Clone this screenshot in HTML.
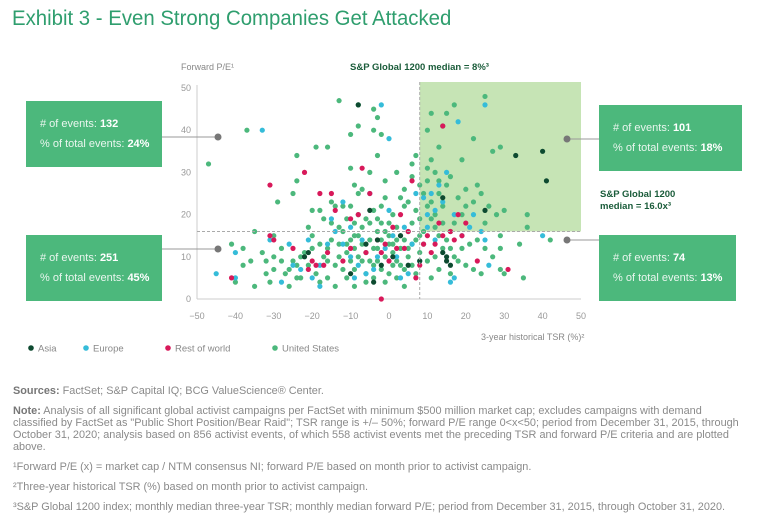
<!DOCTYPE html>
<html><head><meta charset="utf-8"><style>
body{margin:0;width:768px;height:525px;background:#fff;font-family:"Liberation Sans",sans-serif;overflow:hidden;position:relative}
.t{position:absolute;white-space:nowrap}
.box{position:absolute;background:#4cb87c;color:#eaf6ef;font-size:11px;line-height:20px;padding-left:14px;box-sizing:border-box}
.box b{color:#fff}
.fn{position:absolute;left:13px;font-size:11px;color:#8a8a8a;line-height:12px;white-space:nowrap;transform:scaleX(0.99);transform-origin:0 0}
.fn b{color:#777}
</style></head><body>
<div class="t" style="left:12px;top:7px;font-size:21px;color:#2f9e6e;transform:scaleX(0.97);transform-origin:0 0">Exhibit 3 - Even Strong Companies Get Attacked</div>
<svg id="chart" width="768" height="380" style="position:absolute;left:0;top:0"></svg>
<div class="box" style="left:26px;top:101px;width:136px;height:66px;padding-top:13px"># of events: <b>132</b><br>% of total events: <b>24%</b></div>
<div class="box" style="left:26px;top:235px;width:136px;height:66px;padding-top:13px"># of events: <b>251</b><br>% of total events: <b>45%</b></div>
<div class="box" style="left:599px;top:105px;width:143px;height:66px;padding-top:13px"># of events: <b>101</b><br>% of total events: <b>18%</b></div>
<div class="box" style="left:599px;top:235px;width:137px;height:66px;padding-top:13px"># of events: <b>74</b><br>% of total events: <b>13%</b></div>
<div class="t" style="left:181px;top:62px;font-size:9px;color:#888">Forward P/E¹</div>
<div class="t" style="left:350px;top:62px;font-size:9.5px;color:#1a5c3a;font-weight:bold">S&amp;P Global 1200 median = 8%³</div>
<div class="t" style="left:600px;top:189px;font-size:9.5px;color:#1a5c3a;font-weight:bold;line-height:12px">S&amp;P Global 1200<br>median = 16.0x³</div>
<div class="t" style="left:481px;top:332px;font-size:9px;color:#888">3-year historical TSR (%)²</div>
<div class="fn" style="top:385px"><b>Sources:</b> FactSet; S&amp;P Capital IQ; BCG ValueScience® Center.</div>
<div class="fn" style="top:405px"><b>Note:</b> Analysis of all significant global activist campaigns per FactSet with minimum $500 million market cap; excludes campaigns with demand<br>classified by FactSet as "Public Short Position/Bear Raid"; TSR range is +/– 50%; forward P/E range 0&lt;x&lt;50; period from December 31, 2015, through<br>October 31, 2020; analysis based on 856 activist events, of which 558 activist events met the preceding TSR and forward P/E criteria and are plotted<br>above.</div>
<div class="fn" style="top:461px">¹Forward P/E (x) = market cap / NTM consensus NI; forward P/E based on month prior to activist campaign.</div>
<div class="fn" style="top:481px">²Three-year historical TSR (%) based on month prior to activist campaign.</div>
<div class="fn" style="top:501px">³S&amp;P Global 1200 index; monthly median three-year TSR; monthly median forward P/E; period from December 31, 2015, through October 31, 2020.</div>
<script>
const xTicks=[-50,-40,-30,-20,-10,0,10,20,30,40,50];
const yTicks=[0,10,20,30,40,50];
const medianTSR=[8];
const medianPE=[16];
const usPts=[[-47,32],[-37,40],[-24,34],[-19,36],[-16,36],[-13,47],[-8,46],[-4,45],[-3,43],[-4,40],[-8,41],[-10,39],[-2,39],[-10,31],[-5,30],[-3,34],[-24,28],[-25,25],[-29,23],[-20,21],[-15,23],[-14,22],[-12,22],[-9,27],[-7,26],[-8,25],[-21,17],[-35,16],[-41,13],[-38,12],[-38,8],[-40,4],[-35,3],[-31,4],[-32,6],[-30,7],[-32,9],[-30,10],[-28,9],[-27,6],[-26,3],[-24,5],[-23,5],[-24,8],[-25,9],[-23,10],[-22,11],[-20,12],[-20,15],[-18,13],[-17,10],[-16,12],[-15,14],[-13,13],[-16,9],[-14,8],[-12,7],[-13,10],[-11,11],[-10,9],[-9,12],[-10,14],[-8,15],[-7,17],[-6,19],[-5,18],[-7,13],[-6,11],[-8,10],[-5,9],[-4,8],[-3,12],[-2,14],[-1,16],[0,18],[1,20],[2,17],[3,15],[-3,19],[-4,21],[-2,22],[0,13],[1,11],[2,9],[3,12],[4,14],[5,16],[6,18],[7,21],[5,23],[4,26],[6,29],[8,27],[9,25],[10,22],[11,19],[12,17],[13,15],[14,12],[12,10],[10,9],[8,11],[9,13],[7,14],[6,8],[4,7],[2,5],[0,6],[-2,7],[-4,5],[-6,6],[-9,7],[-11,5],[-16,5],[-18,4],[-19,6],[-12,16],[-15,18],[-17,19],[-18,21],[-11,19],[-9,18],[-13,17],[15,14],[16,12],[17,10],[18,9],[20,8],[22,7],[24,6],[19,12],[21,13],[23,14],[25,12],[27,10],[29,7],[30,6],[35,5],[29,12],[34,13],[42,14],[17,18],[19,20],[20,22],[22,23],[24,25],[26,22],[28,20],[30,21],[36,20],[36,17],[29,15],[25,18],[16,16],[14,18],[12,20],[11,23],[13,25],[15,27],[12,30],[11,33],[13,36],[10,40],[11,44],[14,41],[15,44],[17,46],[25,48],[22,38],[27,35],[29,36],[19,33],[16,29],[18,24],[20,26],[23,27],[14,22],[10,28],[10,31],[13,28],[-1,28],[2,30],[6,32],[7,34],[-1,24],[3,24],[4,22],[8,19],[9,16],[6,13],[5,10],[3,8],[1,8],[-1,10],[-3,9],[-6,4],[-9,3],[-14,3],[-8,20],[-10,22],[-21,8],[-26,7],[-28,12],[-30,15],[-33,11],[-36,9],[7,6],[11,5],[13,7],[16,6],[-1,4],[4,3],[-5,14],[-3,16],[0,15],[2,14],[-7,9],[-2,18],[1,13],[5,12],[8,15],[-9,15],[-11,13],[-4,12]];
const euPts=[[-33,40],[-45,6],[-40,11],[-40,5],[-31,14],[-28,4],[-25,8],[-23,7],[-20,5],[-18,3],[-18,8],[-16,13],[-14,16],[-12,13],[-10,10],[-8,8],[-6,6],[-4,7],[-3,10],[-1,12],[1,15],[2,10],[3,5],[5,6],[-15,19],[-12,23],[-10,17],[-2,46],[0,38],[-5,25],[7,25],[9,24],[11,25],[13,27],[15,30],[17,20],[19,15],[21,17],[25,14],[26,8],[24,16],[22,20],[14,23],[12,21],[10,20],[18,42],[25,46],[40,15],[16,4],[17,5],[6,13],[4,17],[0,21],[-7,14],[-9,5],[8,9],[-26,13],[-21,14],[10,17],[12,14]];
const rowPts=[[-41,5],[-31,27],[-31,15],[-30,14],[-25,12],[-20,9],[-21,7],[-19,8],[-17,8],[-16,11],[-22,30],[-18,25],[-15,25],[-14,21],[-10,19],[-8,20],[-7,31],[-5,25],[-3,14],[-2,11],[-1,13],[0,9],[1,17],[2,12],[3,20],[5,16],[6,28],[8,8],[9,13],[11,11],[12,13],[13,18],[14,15],[16,16],[17,14],[19,15],[20,18],[23,9],[31,7],[14,41],[-2,0],[-10,12],[-12,9],[7,5],[4,12],[-6,11],[18,20],[10,15]];
const asiaPts=[[-8,46],[-22,10],[-21,11],[-10,6],[-6,13],[-5,21],[-3,14],[-2,8],[1,10],[5,8],[8,9],[14,11],[15,9],[16,8],[15,10],[14,24],[25,21],[33,34],[40,35],[41,28],[-4,4],[3,15]];
const NS='http://www.w3.org/2000/svg';
const svg=document.getElementById('chart');
const X=v=>389+v*3.84, Y=v=>299-v*4.22;
function mk(t,a,p){const e=document.createElementNS(NS,t);for(const k in a)e.setAttribute(k,a[k]);(p||svg).appendChild(e);return e;}
let e=mk('rect',{x:X(medianTSR[0]),y:82,width:X(50)-X(medianTSR[0]),height:Y(medianPE[0])-82,fill:'#c6e4b5'});


e=mk('line',{x1:X(-50),x2:X(-50),y1:85,y2:299,stroke:'#ccc'});


e=mk('line',{x1:X(-50),x2:X(50),y1:299,y2:299,stroke:'#ccc'});


yTicks.forEach(v=>{const t=mk('text',{x:191,y:Y(v)+3,'text-anchor':'end','font-size':'9','fill':'#999'});t.textContent=v;

});
xTicks.forEach(v=>{const t=mk('text',{x:X(v),y:319,'text-anchor':'middle','font-size':'9','fill':'#999'});t.textContent=v<0?'\u2212'+(-v):v;

});
const series=[[usPts,'#4cb87c','dot-united-states'],[euPts,'#35bcd9','dot-europe'],[rowPts,'#d8195a','dot-rest-of-world'],[asiaPts,'#0d4a30','dot-asia']];
series.forEach(([pts,c,n])=>pts.forEach(p=>{const d=mk('circle',{cx:X(p[0]),cy:Y(p[1]),r:2.6,fill:c});

}));
e=mk('line',{x1:X(medianTSR[0]),x2:X(medianTSR[0]),y1:82,y2:299,stroke:'#aaa','stroke-dasharray':'3,2'});


e=mk('line',{x1:X(-50),x2:X(50),y1:Y(medianPE[0]),y2:Y(medianPE[0]),stroke:'#aaa','stroke-dasharray':'3,2'});


[[162,218,137],[162,218,249],[567,599,139],[567,599,240]].forEach(([a,b,y],i)=>{
const l=mk('line',{x1:a,x2:b,y1:y,y2:y,stroke:'#999'});


const c=mk('circle',{cx:i<2?b:a,cy:y,r:3.5,fill:'#777'});

});
[['Asia','#0d4a30',31],['Europe','#35bcd9',86],['Rest of world','#d8195a',168],['United States','#4cb87c',275]].forEach(([n,c,x])=>{
const g=mk('g',{});


mk('circle',{cx:x,cy:348,r:2.8,fill:c},g);
const t=mk('text',{x:x+7,y:351.5,'font-size':'9.5','fill':'#888'},g);t.textContent=n;});
</script>
</body></html>
